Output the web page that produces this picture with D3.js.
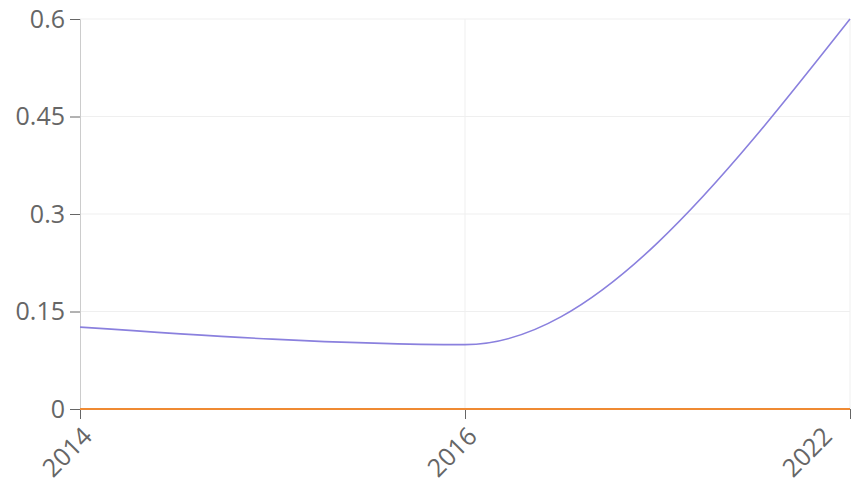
<!DOCTYPE html>
<html>
<head>
<meta charset="utf-8">
<script src="https://cdn.jsdelivr.net/npm/d3@7"></script>
<style>
  html, body { margin: 0; padding: 0; background: #fff; }
  svg { display: block; font-family: "Open Sans", "Noto Sans", sans-serif; }
</style>
</head>
<body>
<svg id="chart" width="868" height="487"></svg>
<script>
// Categories and series
const years = ["2014", "2016", "2022"];
const seriesA = [0.126, 0.099, 0.6];
const seriesB = [0, 0, 0];
const yTicks = [0, 0.15, 0.3, 0.45, 0.6];

const W = 868, H = 487;
const margin = { top: 19, right: 18, bottom: 78, left: 80 };
const iw = W - margin.left - margin.right;
const ih = H - margin.top - margin.bottom;
const FONT = "'Open Sans', 'Noto Sans', sans-serif";
const FS = "25px";

const svg = d3.select("#chart");
const g = svg.append("g").attr("transform", `translate(${margin.left},${margin.top})`);

const x = d3.scalePoint().domain(years).range([0, iw]);
const y = d3.scaleLinear().domain([0, 0.6]).range([ih, 0]);

// Horizontal grid
g.append("g").selectAll("line").data(yTicks.slice(1)).join("line")
  .attr("x1", 0).attr("x2", iw)
  .attr("y1", d => y(d)).attr("y2", d => y(d))
  .attr("stroke", "#efefef").attr("stroke-width", 1);

// Vertical grid
g.append("g").selectAll("line").data(years.slice(1)).join("line")
  .attr("x1", d => x(d)).attr("x2", d => x(d))
  .attr("y1", 0).attr("y2", ih)
  .attr("stroke", "#efefef").attr("stroke-width", 1);

// Y axis
const yAxis = g.append("g")
  .call(d3.axisLeft(y).tickValues(yTicks).tickSize(10).tickPadding(5)
    .tickFormat(d => String(d)));
yAxis.attr("font-size", null).attr("font-family", null);
yAxis.select(".domain").attr("stroke", "#cccccc");
yAxis.selectAll(".tick line").attr("stroke", "#666");
yAxis.selectAll(".tick text").attr("fill", "#666")
  .style("font-size", FS).style("font-family", FONT);

// X axis with rotated labels; the last label is pulled inward to stay on the canvas
const xAxis = g.append("g").attr("transform", `translate(0,${ih})`)
  .call(d3.axisBottom(x).tickSize(10));
xAxis.attr("font-size", null).attr("font-family", null);
xAxis.select(".domain").remove();
xAxis.selectAll(".tick line").attr("stroke", "#666");
xAxis.selectAll(".tick text").attr("fill", "#666")
  .style("font-size", FS).style("font-family", FONT)
  .attr("x", 0).attr("y", 0).attr("dy", 0)
  .attr("text-anchor", "end")
  .attr("transform", (d, i) => {
    const tx = i === years.length - 1 ? -17 : 13;
    return `translate(${tx},29) rotate(-45)`;
  });

const line = d3.line()
  .x((d, i) => x(years[i]))
  .y(d => y(d))
  .curve(d3.curveMonotoneX);

g.append("path").datum(seriesB)
  .attr("d", line).attr("fill", "none")
  .attr("stroke", "#ef8a33").attr("stroke-width", 2);

g.append("path").datum(seriesA)
  .attr("d", line).attr("fill", "none")
  .attr("stroke", "#8a80de").attr("stroke-width", 1.6);
</script>
</body>
</html>
